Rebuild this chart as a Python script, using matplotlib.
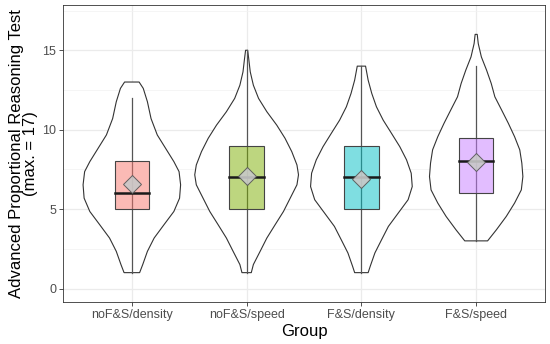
import numpy as np
import matplotlib
matplotlib.use("Agg")
import matplotlib.pyplot as plt
from matplotlib.ticker import MultipleLocator

plt.rcParams['font.family'] = ['Liberation Sans', 'DejaVu Sans']

groups = ['noF&S/density', 'noF&S/speed', 'F&S/density', 'F&S/speed']
fills = ['#F8766D', '#7CAE00', '#00BFC4', '#C77CFF']

# box stats: whisker low, q1, median, q3, whisker high, mean
wlo = [1, 1, 1, 3]
q1 = [5, 5, 5, 6]
med = [6, 7, 7, 8]
q3 = [8, 9, 9, 9.5]
whi = [12, 15, 14, 14]
means = [6.6, 7.1, 6.9, 7.95]

# violin outlines: score levels and relative density (1 = widest)
v1_y = [13.0, 12.6, 11.76, 10.7, 9.67, 8.83, 7.99, 7.36, 6.53, 5.69, 4.85, 4.02, 3.18, 2.34, 1.51, 1.0]
v1_d = [0.14, 0.22, 0.30, 0.37, 0.49, 0.65, 0.81, 0.91, 0.94, 0.92, 0.81, 0.62, 0.43, 0.30, 0.21, 0.15]
v2_y = [15.0, 14.48, 13.64, 12.8, 11.97, 11.13, 10.29, 9.46, 8.62, 7.78, 7.16, 6.53, 5.69, 4.85, 4.02, 3.18, 2.34, 1.51, 1.0]
v2_d = [0.02, 0.04, 0.07, 0.13, 0.23, 0.39, 0.58, 0.74, 0.87, 0.97, 1.0, 0.97, 0.84, 0.71, 0.55, 0.39, 0.26, 0.13, 0.09]
v3_y = [14.0, 13.12, 12.28, 11.44, 10.6, 9.77, 8.93, 8.10, 7.26, 6.42, 5.59, 4.75, 3.91, 3.08, 2.24, 1.40, 1.0]
v3_d = [0.08, 0.13, 0.20, 0.29, 0.42, 0.58, 0.74, 0.87, 0.96, 0.98, 0.90, 0.71, 0.52, 0.39, 0.26, 0.17, 0.13]
v4_y = [16.0, 15.42, 14.58, 13.75, 12.91, 12.07, 11.24, 10.40, 9.56, 8.73, 7.89, 7.05, 6.21, 5.38, 4.54, 3.70, 3.0]
v4_d = [0.02, 0.04, 0.10, 0.20, 0.29, 0.36, 0.49, 0.62, 0.74, 0.84, 0.88, 0.90, 0.87, 0.74, 0.58, 0.39, 0.22]
vio_y = [v1_y, v2_y, v3_y, v4_y]
vio_d = [v1_d, v2_d, v3_d, v4_d]

fig = plt.figure(figsize=(5.5, 3.44), dpi=100)
ax = fig.add_axes([0.1145, 0.122, 0.8765, 0.8635])

half = 0.452  # half width of widest violin
bw = 0.30
for i in range(4):
    x = i + 1
    y = np.array(vio_y[i])
    d = np.array(vio_d[i]) * half
    xs = np.concatenate([x - d, (x + d)[::-1]])
    ys = np.concatenate([y, y[::-1]])
    ax.fill(xs, ys, facecolor='white', edgecolor='#333333', lw=0.8,
            joinstyle='round', zorder=2)
    ax.plot([x, x], [wlo[i], whi[i]], color='#555555', lw=0.9, zorder=3)
    ax.add_patch(plt.Rectangle((x - bw / 2, q1[i]), bw, q3[i] - q1[i],
                               facecolor=fills[i], alpha=0.5, edgecolor='none', zorder=4))
    ax.add_patch(plt.Rectangle((x - bw / 2, q1[i]), bw, q3[i] - q1[i],
                               facecolor='none', edgecolor='#444444', lw=0.8, zorder=5))
    ax.plot([x - bw / 2, x + bw / 2], [med[i], med[i]], color='#1a1a1a', lw=1.8, zorder=6)
    ax.plot(x, means[i], marker='D', ms=9, mfc='#c8c8c8', mec='#555555', mew=0.7,
            alpha=0.9, zorder=7)

ax.set_xlim(0.4, 4.6)
ax.set_ylim(-0.85, 17.85)
ax.set_xticks(range(1, 5))
ax.set_xticklabels(groups)
ax.yaxis.set_major_locator(MultipleLocator(5))
ax.yaxis.set_minor_locator(MultipleLocator(2.5))
ax.grid(which='major', color='#EBEBEB', lw=0.9, zorder=0)
ax.grid(which='minor', axis='y', color='#F2F2F2', lw=0.5, zorder=0)
ax.set_axisbelow(True)
ax.tick_params(which='major', length=3, color='#333333', width=0.6,
               labelsize=9, labelcolor='#4D4D4D', pad=2)
ax.tick_params(which='minor', length=0)
for s in ax.spines.values():
    s.set_color('#333333')
    s.set_linewidth(0.6)

ax.set_xlabel('Group', fontsize=12, labelpad=2)
ax.set_ylabel('Advanced Proportional Reasoning Test\n(max. = 17)', fontsize=12,
              linespacing=0.9, labelpad=3)

fig.savefig('out.png', dpi=100)
